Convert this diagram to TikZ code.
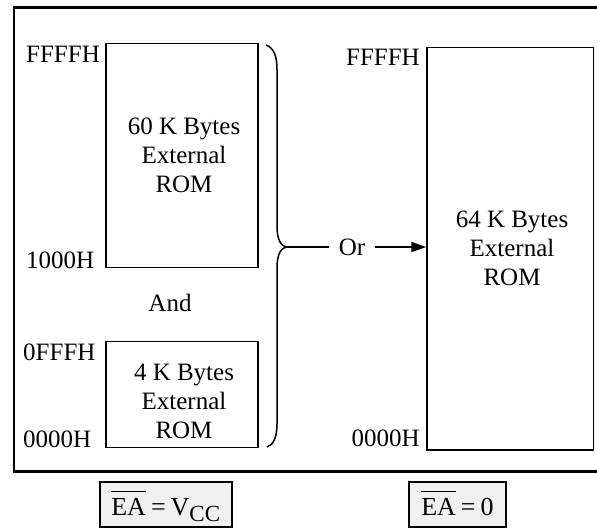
\documentclass[tikz,border=0pt]{standalone}
\usepackage{fontspec}
\setmainfont{Liberation Serif}
\usetikzlibrary{arrows.meta}

\tikzset{
  lbl/.style={inner sep=0pt, font=\fontsize{25}{29}\selectfont},
  mem/.style={draw, line width=1.5pt, inner sep=0pt},
  memtext/.style={lbl, align=center},
  cond/.style={draw, line width=2pt, fill=black!6, inner sep=0pt,
    minimum height=45pt, text height=27pt, text depth=6pt,
    font=\fontsize{26}{30}\selectfont},
  frameline/.style={line width=2.6pt},
  link/.style={line width=1.5pt},
}
% barred pin name with the bar set well above the letters
\newcommand{\pinbar}[1]{$\overline{\hbox{\rule{0pt}{22pt}#1}}$}

\begin{document}
\begin{tikzpicture}[x=1pt,y=-1pt]
  \useasboundingbox (0,0) rectangle (597,528);

  % outer frame (open on the right)
  \draw[frameline] (14,7.5) rectangle (610,471.5);

  % memory blocks
  \node[mem, minimum width=152pt, minimum height=224pt] (rom60) at (182,155.5) {};
  \node[mem, minimum width=152pt, minimum height=106pt] (rom4)  at (182,394.5) {};
  \node[mem, minimum width=166.5pt, minimum height=402.5pt] (rom64) at (510.25,248.75) {};

  % the base anchor of a multi-line node sits on its last line
  \node[memtext, anchor=base] (t60) at (184,192) {60 K Bytes\\External\\ROM};
  \node[memtext, anchor=base] (t4)  at (184,438) {4 K Bytes\\External\\ROM};
  \node[memtext, anchor=base] (t64) at (512,285) {64 K Bytes\\External\\ROM};

  % address labels
  \node[lbl, anchor=base west] (aL1) at (26,62)  {FFFFH};
  \node[lbl, anchor=base west] (aL2) at (26,268) {1000H};
  \node[lbl, anchor=base west] (aL3) at (23,360) {0FFFH};
  \node[lbl, anchor=base west] (aL4) at (23,447) {0000H};
  \node[lbl, anchor=base east] (aR1) at (420,65)  {FFFFH};
  \node[lbl, anchor=base east] (aR2) at (420,446) {0000H};

  \node[lbl, anchor=base] (and) at (170,311) {And};

  % brace joining the two left blocks
  \coordinate (btip) at (288,247);
  \draw[link] (266,45) .. controls (274,48) and (277,56) .. (277,70)
    -- (277,226) .. controls (277,240) and (281,247) .. (btip)
    .. controls (281,247) and (277,254) .. (277,268)
    -- (277,424) .. controls (277,438) and (273,445) .. (267,447);

  \node[lbl, anchor=base] (or) at (352,255) {Or};
  \draw[link] (btip) -- ([xshift=-10pt]or.west |- btip);
  \draw[link, -{Triangle[length=15pt,width=10pt]}]
    ([xshift=10pt]or.east |- btip) -- (btip -| rom64.west);

  % EA pin conditions
  \node[cond, minimum width=132pt] (ea1) at (166,504.5)
    {\pinbar{EA}\hspace{5pt}=\hspace{5pt}V$_{\hbox{\fontsize{23}{23}\selectfont CC}}$};
  \node[cond, minimum width=97pt] (ea0) at (457.5,504.5)
    {\pinbar{EA}\hspace{5pt}=\hspace{5pt}0};
\end{tikzpicture}
\end{document}
